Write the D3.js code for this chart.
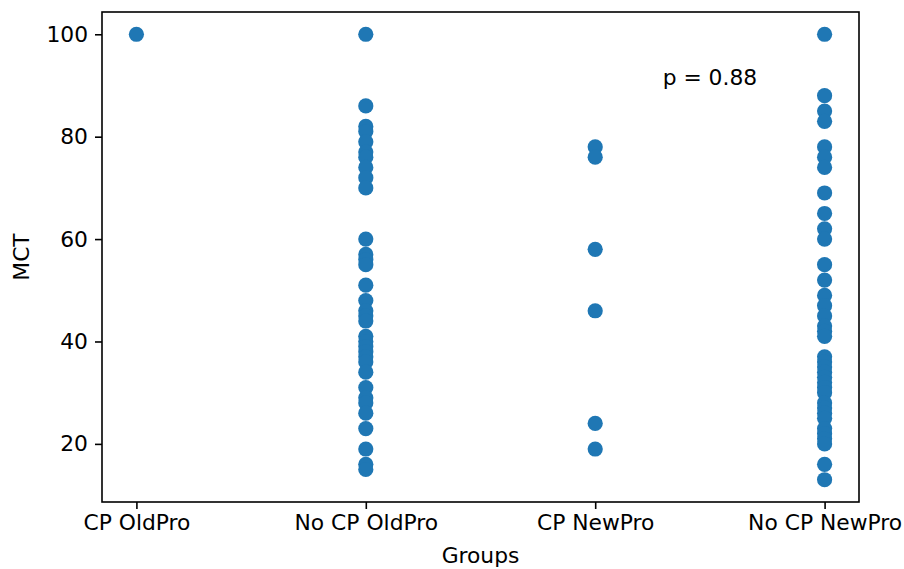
<!DOCTYPE html>
<html>
<head>
<meta charset="utf-8">
<script src="https://cdn.jsdelivr.net/npm/d3@7"></script>
<style>
  body { margin: 0; background: #fff; }
  text { font-family: "DejaVu Sans", sans-serif; }
</style>
</head>
<body>
<div id="chart"></div>
<script>
// --- data ---
const groups = ["CP OldPro", "No CP OldPro", "CP NewPro", "No CP NewPro"];

const cpOldPro = [100];
const noCpOldPro = [100, 86, 82, 81, 79, 77, 76, 74, 72, 70, 60, 57, 56, 55, 51, 48, 46, 45, 44,
  41, 40, 39, 38, 37, 36, 34, 31, 29, 28, 26, 23, 19, 16, 15];
const cpNewPro = [78, 76, 58, 46, 24, 19];
const noCpNewPro = [100, 88, 85, 83, 78, 76, 74, 69, 65, 62, 60, 55, 52, 49, 47, 45, 43, 42, 41,
  37, 36, 35, 34, 33, 32, 31, 30, 28, 27, 26, 25, 23, 22, 21, 20, 16, 13];

const yTicks = [20, 40, 60, 80, 100];
const pLabel = "p = 0.88";

// build points
const series = [cpOldPro, noCpOldPro, cpNewPro, noCpNewPro];
const points = [];
series.forEach((vals, i) => vals.forEach(v => points.push({ g: i, v: v })));

// --- layout ---
const W = 904, H = 569;
const margin = { top: 12, right: 45, bottom: 67, left: 102 };
const width = W - margin.left - margin.right;
const height = H - margin.top - margin.bottom;

const svg = d3.select("#chart").append("svg")
  .attr("width", W)
  .attr("height", H);

const g = svg.append("g")
  .attr("transform", `translate(${margin.left},${margin.top})`);

// matplotlib style margins (5% y, categorical x -0.15..3.15)
const yMin = 13, yMax = 100, pad = (yMax - yMin) * 0.05;
const x = d3.scaleLinear().domain([-0.15, 3.15]).range([0, width]);
const y = d3.scaleLinear().domain([yMin - pad, yMax + pad]).range([height, 0]);

// axes
const fs = 21.8;
const xAxis = g.append("g")
  .attr("transform", `translate(0,${height})`)
  .call(d3.axisBottom(x).tickValues(d3.range(groups.length)).tickFormat(i => groups[i])
    .tickSize(7).tickPadding(6));
const yAxis = g.append("g")
  .call(d3.axisLeft(y).tickValues(yTicks).tickSize(7).tickPadding(7));

[xAxis, yAxis].forEach(a => {
  a.selectAll("text").style("font-size", fs + "px").attr("fill", "#000")
    .style("font-family", "'DejaVu Sans', sans-serif");
  a.selectAll("line").attr("stroke", "#000").attr("stroke-width", 1.6);
  a.select(".domain").remove();
});

// frame
g.append("rect")
  .attr("width", width).attr("height", height)
  .attr("fill", "none").attr("stroke", "#000").attr("stroke-width", 1.6);

// points
g.selectAll("circle.pt")
  .data(points)
  .join("circle")
  .attr("class", "pt")
  .attr("cx", d => x(d.g))
  .attr("cy", d => y(d.v))
  .attr("r", 7.6)
  .attr("fill", "#1f77b4");

// p-value label
g.append("text")
  .attr("x", x(2.5)).attr("y", y(90))
  .attr("text-anchor", "middle")
  .style("font-size", fs + "px")
  .text(pLabel);

// axis titles
svg.append("text")
  .attr("x", margin.left + width / 2).attr("y", H - 6)
  .attr("text-anchor", "middle")
  .style("font-size", fs + "px")
  .text("Groups");

svg.append("text")
  .attr("transform", `translate(${29},${margin.top + height / 2}) rotate(-90)`)
  .attr("text-anchor", "middle")
  .style("font-size", fs + "px")
  .text("MCT");
</script>
</body>
</html>
